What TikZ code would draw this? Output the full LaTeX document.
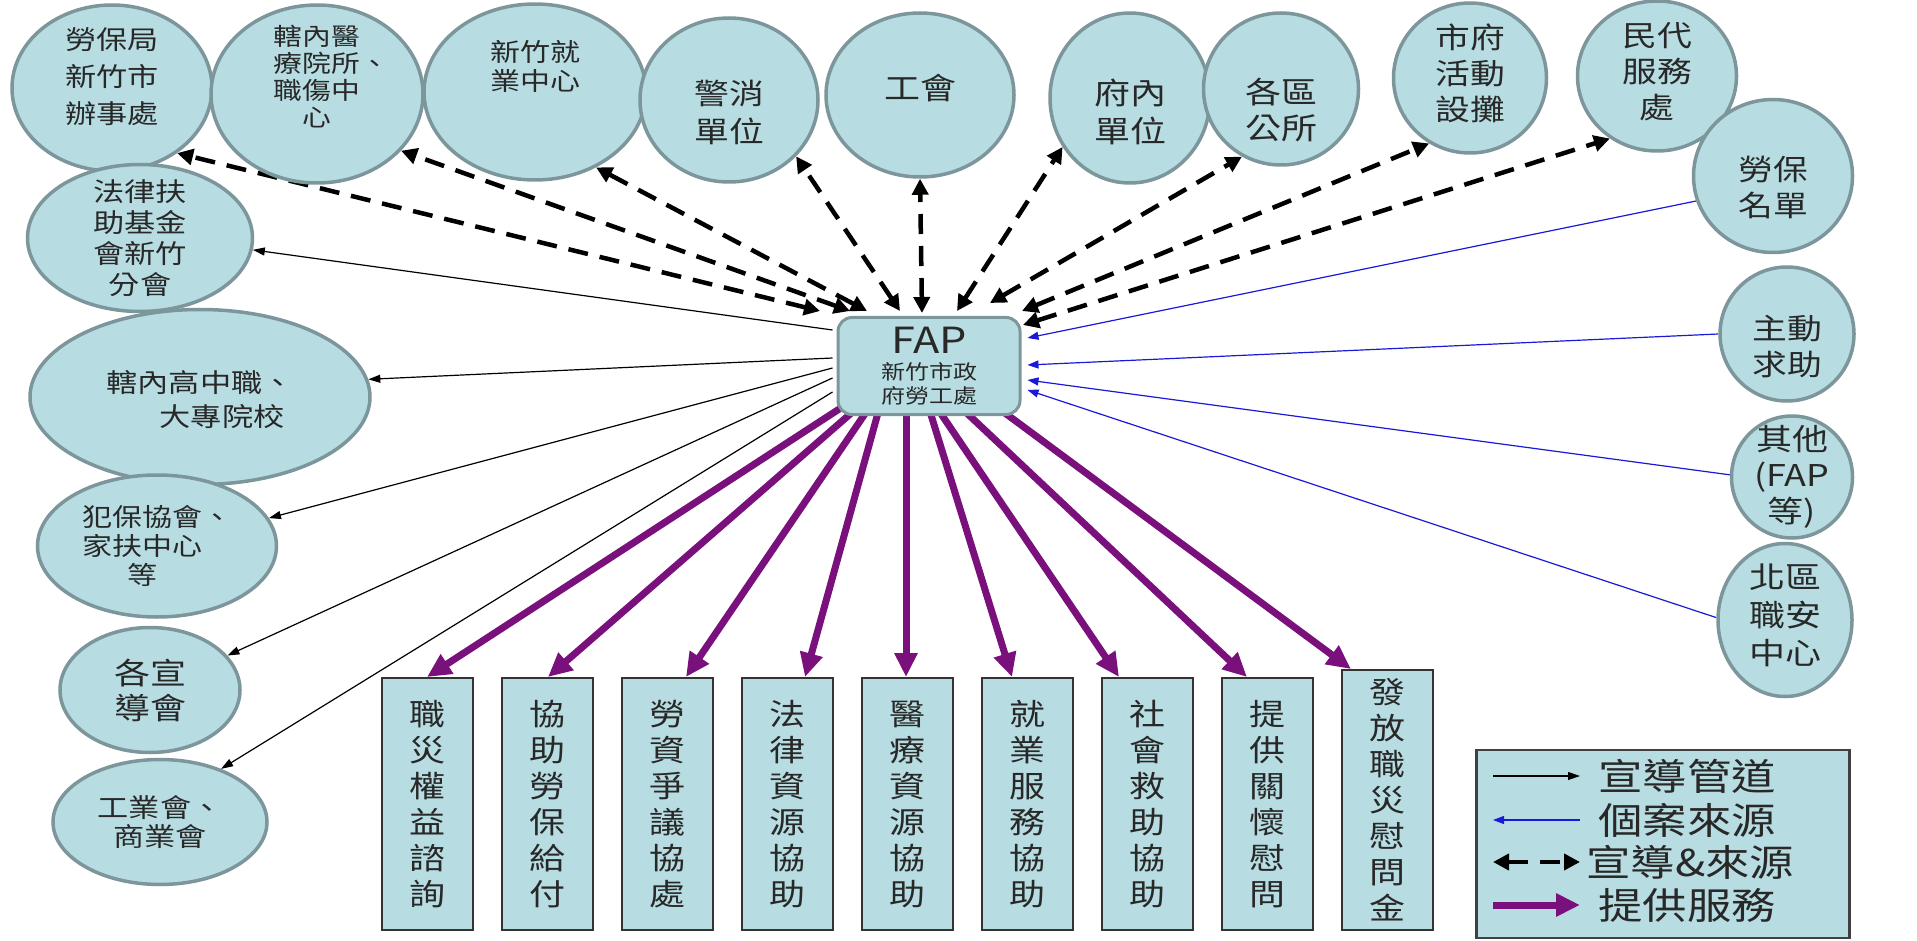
\documentclass[tikz,border=0pt]{standalone}
\usepackage{fontspec}
\setmainfont{Noto Sans CJK TC}[FakeStretch=1.2]
\usetikzlibrary{shapes.geometric,arrows.meta}
\pgfdeclarelayer{fondo}
\pgfsetlayers{fondo,main}
\definecolor{celeste}{RGB}{183,221,226}
\definecolor{borde}{RGB}{124,150,155}
\definecolor{morado}{RGB}{122,16,124}
\definecolor{azul}{RGB}{25,25,215}
\definecolor{texto}{RGB}{40,40,40}

\begin{document}
\begin{tikzpicture}[x=1pt,y=-1pt]
	\tikzstyle{burbuja}=[ellipse,draw=borde,line width=3.5pt,fill=celeste,inner sep=0pt]
	\tikzstyle{servicio}=[rectangle,draw=black!80,line width=2pt,fill=celeste,minimum width=91pt,inner sep=0pt,align=center,text=texto,font=\fontsize{30}{36}\selectfont]
	\tikzstyle{difusion}=[-{Triangle[length=12pt,width=8pt]},line width=1.2pt,black]
	\tikzstyle{fuente}=[-{Triangle[length=11pt,width=8pt]},line width=1.2pt,azul]
	\tikzstyle{mixto}=[arrows={Triangle[length=16pt,width=16pt]-Triangle[length=16pt,width=16pt]},line width=4.5pt,dash pattern=on 20pt off 12pt,black]
	\tikzstyle{atencion}=[-{Triangle[length=24pt,width=22pt]},line width=7pt,morado]

	\useasboundingbox (0,0) rectangle (1917,941);

	% Nodo central
	\node[draw=borde,line width=3pt,fill=celeste,rounded corners=14pt,minimum width=182pt,minimum height=97pt,align=center,text=texto,font=\fontsize{20}{24}\selectfont] (fap) at (929,366) {{\fontsize{36}{36}\selectfont FAP}\\[2pt]新竹市政\\府勞工處};

	% Fila superior
	\foreach \name/\x/\y/\w/\h/\fs/\sk/\up/\txt in {
		t1/112/88/200/166/26/37/11/{勞保局\\新竹市\\辦事處},
		t2/317/94/212/178/24/27/17/{轄內醫\\療院所\rlap{、}\\職傷中\\心},
		t3/535/92/222/176/25/29/26/{新竹就\\業中心},
		t4/729/100/178/164/29/38/-12/{警消\\單位},
		t5/920/95/188/164/30/35/7/{工會},
		t6/1130/98/160/170/30/38/-14/{府內\\單位},
		t7/1281/89/155/152/30/36/-21/{各區\\公所},
		t8/1470/78/153/150/29/36/5/{市府\\活動\\設攤},
		t9/1657/76/159/150/29/36/4/{民代\\服務\\處}}
	\node[burbuja,minimum width=\w pt,minimum height=\h pt,
		label={[name=\name-txt,yshift=\up pt,align=center,text=texto,font=\fontsize{\fs}{\sk}\selectfont]center:{\txt}}] (\name) at (\x,\y) {};

	% Columna derecha
	\foreach \name/\x/\y/\w/\h/\fs/\sk/\up/\txt in {
		r1/1773/176/159/153/29/36/-11/{勞保\\名單},
		r2/1787/334/134/134/29/36/-13/{主動\\求助},
		r3/1792/477/121/122/30/36/0/{其他\\(FAP\\等)},
		r4/1785/620/134/153/30/38/5/{北區\\職安\\中心}}
	\node[burbuja,minimum width=\w pt,minimum height=\h pt,
		label={[name=\name-txt,yshift=\up pt,align=center,text=texto,font=\fontsize{\fs}{\sk}\selectfont]center:{\txt}}] (\name) at (\x,\y) {};

	% Columna izquierda
	\foreach \name/\x/\y/\w/\h/\fs/\sk/\up/\txt in {
		l1/140/238/225/147/26/31/0/{法律扶\\助基金\\會新竹\\分會},
		l2/200/397/340/175/26/34/-3/{轄內高中職、\\\hspace*{1.7em}大專院校},
		l3/157/546/239/142/25/29/0/{犯保協會、\\家扶中心\phantom{、}\\等\phantom{、}},
		l4/150/690/180/125/30/35/0/{各宣\\導會},
		l5/160/822/214/125/26/29/0/{工業會、\\商業會}}
	\node[burbuja,minimum width=\w pt,minimum height=\h pt,
		label={[name=\name-txt,yshift=\up pt,align=center,text=texto,font=\fontsize{\fs}{\sk}\selectfont]center:{\txt}}] (\name) at (\x,\y) {};

	% Servicios
	\foreach \i/\y/\h/\txt in {
		1/804/252/{職\\災\\權\\益\\諮\\詢},
		2/804/252/{協\\助\\勞\\保\\給\\付},
		3/804/252/{勞\\資\\爭\\議\\協\\處},
		4/804/252/{法\\律\\資\\源\\協\\助},
		5/804/252/{醫\\療\\資\\源\\協\\助},
		6/804/252/{就\\業\\服\\務\\協\\助},
		7/804/252/{社\\會\\救\\助\\協\\助},
		8/804/252/{提\\供\\關\\懷\\慰\\問},
		9/800/260/{發\\放\\職\\災\\慰\\問\\金}}
	\node[servicio,minimum height=\h pt] (s\i) at ({427+120*(\i-1)},\y) {\txt};

	\begin{pgfonlayer}{fondo}
	% Difusion y fuente
	\foreach \dest/\ang/\dx/\dy in {t1/-45/-109/5, t2/-34/-79/5, t3/-51/-62/5, t4/-40/-29/5, t5/-90/-7/3,
		t6/-144/28/5, t7/-120/61/13, t8/-122/93/5, t9/-127/94/-9}
	\draw[mixto] ([xshift=\dx pt,yshift=\dy pt]fap.north) -- (\dest.\ang);

	% Difusion
	\foreach \dest/\ang/\dy in {l1/-6/36, l2/6/8, l3/14/-2, l4/24/-12, l5/41/-26}
	\draw[difusion] ([xshift=-4pt,yshift=\dy pt]fap.west) -- (\dest.\ang);

	% Fuentes de casos
	\foreach \src/\ang/\dy in {r1/198/28, r2/180/1, r3/178/-14, r4/178/-24}
	\draw[fuente] (\src.\ang) -- ([xshift=6pt,yshift=\dy pt]fap.east);

	% Servicios prestados
	\foreach \dest/\dx/\tx in {s1/-79/0, s2/-65/1, s3/-56/19, s4/-48/18, s5/-23/-1,
		s6/-2/-15, s7/4/-28, s8/26/-20, s9/61/-36}
	\draw[atencion] ([xshift=\dx pt,yshift=14pt]fap.south) -- ([xshift=\tx pt]\dest.north);
	\end{pgfonlayer}

	% Leyenda
	\node[rectangle,draw=black!75,line width=2.5pt,fill=celeste,minimum width=373pt,minimum height=188pt] (leyenda) at (1663,844) {};
	\foreach \fila/\y in {1/776,2/820,3/862,4/905}{
		\coordinate (ini-\fila) at (1493,\y);
		\coordinate (fin-\fila) at (1580,\y);
	}
	\draw[difusion] (ini-1) -- (fin-1);
	\draw[fuente] (fin-2) -- (ini-2);
	\draw[mixto] (ini-3) -- (fin-3);
	\draw[atencion] (ini-4) -- (fin-4);
	\foreach \fila/\x/\y/\txt in {1/1598/776/{宣導管道}, 2/1598/820/{個案來源}, 3/1586/862/{宣導\&來源}, 4/1598/905/{提供服務}}
	\node[anchor=west,inner sep=0pt,text=texto,font=\fontsize{37}{40}\selectfont] (ley-\fila) at (\x,\y) {\txt};
\end{tikzpicture}
\end{document}
